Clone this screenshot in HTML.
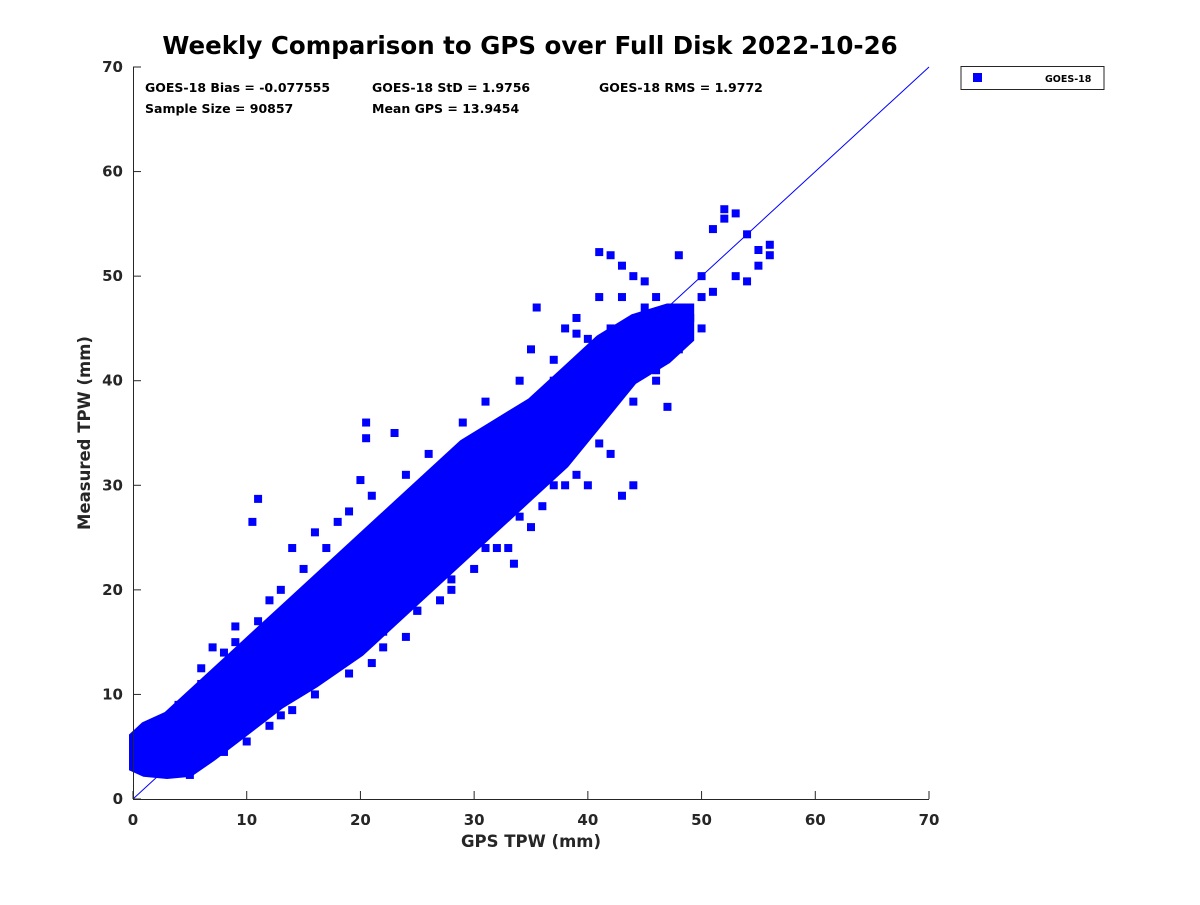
<!DOCTYPE html>
<html><head><meta charset="utf-8"><style>
body{margin:0;background:#fff;width:1200px;height:900px;overflow:hidden}
text{font-family:"DejaVu Sans","Liberation Sans",sans-serif;font-weight:bold;fill:#262626}
</style></head><body>
<svg id="chart" width="1200" height="900" xmlns="http://www.w3.org/2000/svg">
<text x="530" y="54" font-size="24.5" text-anchor="middle" style="fill:#000">Weekly Comparison to GPS over Full Disk 2022-10-26</text>
<g id="stats" font-size="12.5">
<text x="145" y="92" style="fill:#000">GOES-18 Bias = -0.077555</text>
<text x="372" y="92" style="fill:#000">GOES-18 StD = 1.9756</text>
<text x="599" y="92" style="fill:#000">GOES-18 RMS = 1.9772</text>
<text x="145" y="113" style="fill:#000">Sample Size = 90857</text>
<text x="372" y="113" style="fill:#000">Mean GPS = 13.9454</text>
</g>
<g id="marks"></g>
<g id="axes"></g>
<text x="531" y="847" font-size="16.5" text-anchor="middle">GPS TPW (mm)</text>
<text transform="translate(90,433) rotate(-90)" font-size="16.5" text-anchor="middle">Measured TPW (mm)</text>
<g>
<rect x="961" y="66.5" width="143" height="23" fill="#fff" stroke="#262626" stroke-width="1"/>
<rect x="973" y="73" width="9" height="9" fill="#0000ff"/>
<text x="1045" y="82" font-size="9.5" style="fill:#000">GOES-18</text>
</g>
</svg>
<script>
const ticks=[0,10,20,30,40,50,60,70];
const bandGps=[0,1,3,5,7,10,13,16,20,23,26,29,32,35,38,41,44,47,49];
const bandLow=[3,2.5,2.3,2.5,4,6.5,9,11,14,17,20,23,26,29,32,36,40,42,44];
const bandHigh=[6,7,8,10,12,15,18,21,25,28,31,34,36,38,41,44,46,47,47];
const outGps=[11,10.5,20.5,20.5,23,35.5,35,41,42,43,52,53,52,51,54,55,44,43,46,47,40,35,33,33.5,28,25,24,22,18,15,13,12,10,8,5,3,0,1,9,7,6,16,18,20,27,37,38,39,44,45,48,50,56,55,56,49,47,42,46,48,50,45,30,36,32,26,19,14,12,53,54,51,41,39,
 21,24,26,29,31,34,37,40,43,45,17,15,13,11,9,8,6,4,22,25,28,31,34,37,39,41,44,46,48,50,27,30,32,36,38,42,21,19,16,14];
const outMeas=[28.7,26.5,36,34.5,35,47,43,52.3,52,51,56.4,56,55.5,54.5,54,52.5,30,29,40,37.5,30,26,24,22.5,20,18,15.5,14.5,13,11,8,7,5.5,4.5,2.3,2.8,5.5,6,16.5,14.5,12.5,25.5,26.5,30.5,31.5,40,45,44.5,50,49.5,52,50,52,51,53,46,46.5,45,48,44.5,48,42,28.5,33,27,23,27.5,24,19,50,49.5,48.5,48,46,
 29,31,33,36,38,40,42,44,48,47,24,22,20,17,15,14,11,9,16,18,21,24,27,30,31,34,38,41,43,45,19,22,24,28,30,33,13,12,10,8.5];
const X=v=>133+v*796/70, Y=v=>799-v*732/70;
const NS="http://www.w3.org/2000/svg";
const marks=document.getElementById('marks'), axes=document.getElementById('axes');
function mk(tag,attrs,parent){const e=document.createElementNS(NS,tag);for(const k in attrs)e.setAttribute(k,attrs[k]);parent.appendChild(e);return e;}
let pts=bandGps.map((g,i)=>X(g)+','+Y(bandHigh[i]));
for(let i=bandGps.length-1;i>=0;i--)pts.push(X(bandGps[i])+','+Y(bandLow[i]));
const band=mk('polygon',{points:pts.join(' '),fill:'#0000ff',stroke:'#0000ff','stroke-width':8,'stroke-linejoin':'miter'},marks);


outGps.forEach((g,i)=>{
 const r=mk('rect',{x:X(g)-4,y:Y(outMeas[i])-4,width:8,height:8,fill:'#0000ff'},marks);
 
 
});
const one=mk('line',{x1:X(0),y1:Y(0),x2:X(70),y2:Y(70),stroke:'#0000ff','stroke-width':1},marks);


const xa=mk('line',{x1:133,y1:799.5,x2:929,y2:799.5,stroke:'#262626'},axes);


const ya=mk('line',{x1:133.5,y1:67,x2:133.5,y2:799,stroke:'#262626'},axes);


ticks.forEach(t=>{
 mk('line',{x1:X(t),y1:799,x2:X(t),y2:791,stroke:'#262626'},axes);
 const tx=mk('text',{x:X(t),y:825,'font-size':15,'text-anchor':'middle'},axes);tx.textContent=t;
 
 
 mk('line',{x1:133,y1:Y(t),x2:141,y2:Y(t),stroke:'#262626'},axes);
 const ty=mk('text',{x:123,y:Y(t)+5,'font-size':15,'text-anchor':'end'},axes);ty.textContent=t;
 
 
});
</script>
</body></html>
